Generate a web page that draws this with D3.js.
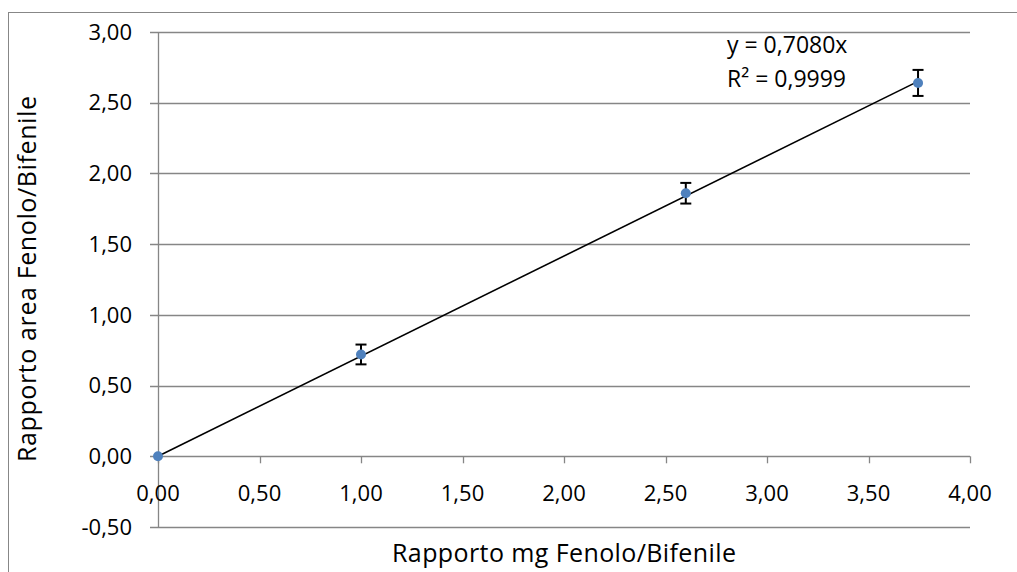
<!DOCTYPE html>
<html>
<head>
<meta charset="utf-8">
<script src="https://cdn.jsdelivr.net/npm/d3@7"></script>
<style>
  body { margin: 0; background: #fff; }
  svg { display: block; font-family: "Open Sans", "Noto Sans", sans-serif; }
</style>
</head>
<body>
<div id="chart"></div>
<script>
// data
const xValues = [0, 1.00, 2.60, 3.744];
const yValues = [0, 0.72, 1.86, 2.64];
const yErrors = [0, 0.07, 0.073, 0.092];
const slope = 0.708;
const xTicks = [0, 0.5, 1, 1.5, 2, 2.5, 3, 3.5, 4];
const yTicks = [-0.5, 0, 0.5, 1, 1.5, 2, 2.5, 3];
const eqLabels = ["y = 0,7080x", "R² = 0,9999"];

const W = 1017, H = 572;
const fmt = v => v.toFixed(2).replace(".", ",");

const svg = d3.select("#chart").append("svg")
    .attr("width", W).attr("height", H);

// outer chart border (right and bottom fall outside the picture)
svg.append("rect")
    .attr("x", 8.5).attr("y", 12.5)
    .attr("width", W + 10).attr("height", H + 10)
    .attr("fill", "none").attr("stroke", "#878787").attr("stroke-width", 1);

const x = d3.scaleLinear().domain([0, 4]).range([158, 970]);
const y = d3.scaleLinear().domain([-0.5, 3]).range([527, 32]);

const grid = "#868686";

// horizontal gridlines
svg.append("g").selectAll("line")
    .data(yTicks)
    .enter().append("line")
    .attr("x1", x(0) - 8).attr("x2", x(4))
    .attr("y1", d => Math.round(y(d)) + 0.5)
    .attr("y2", d => Math.round(y(d)) + 0.5)
    .attr("stroke", grid).attr("stroke-width", 1.3);

// y axis line
svg.append("line")
    .attr("x1", x(0) + 0.5).attr("x2", x(0) + 0.5)
    .attr("y1", y(3)).attr("y2", y(-0.5))
    .attr("stroke", grid).attr("stroke-width", 1.3);

// x tick marks on the zero line
svg.append("g").selectAll("line")
    .data(xTicks)
    .enter().append("line")
    .attr("x1", d => Math.round(x(d)) + 0.5)
    .attr("x2", d => Math.round(x(d)) + 0.5)
    .attr("y1", y(0)).attr("y2", y(0) + 7)
    .attr("stroke", grid).attr("stroke-width", 1.3);

// tick labels
svg.append("g").selectAll("text")
    .data(yTicks)
    .enter().append("text")
    .attr("x", 132).attr("y", d => y(d))
    .attr("dy", "0.35em")
    .attr("text-anchor", "end")
    .attr("font-size", 22).attr("fill", "#000")
    .text(fmt);

svg.append("g").selectAll("text")
    .data(xTicks)
    .enter().append("text")
    .attr("x", d => x(d)).attr("y", 493)
    .attr("dy", "0.35em")
    .attr("text-anchor", "middle")
    .attr("font-size", 22).attr("fill", "#000")
    .text(fmt);

// axis titles
svg.append("text")
    .attr("x", 564).attr("y", 553)
    .attr("dy", "0.35em")
    .attr("text-anchor", "middle")
    .attr("font-size", 25)
    .attr("textLength", 344)
    .text("Rapporto mg Fenolo/Bifenile");

svg.append("text")
    .attr("transform", "translate(27,279) rotate(-90)")
    .attr("dy", "0.35em")
    .attr("text-anchor", "middle")
    .attr("font-size", 25)
    .attr("textLength", 366)
    .text("Rapporto area Fenolo/Bifenile");

// linear trend line through origin
const xMax = d3.max(xValues);
svg.append("line")
    .attr("x1", x(0)).attr("y1", y(0))
    .attr("x2", x(xMax)).attr("y2", y(slope * xMax))
    .attr("stroke", "#000").attr("stroke-width", 1.6);

// error bars
const pts = xValues.map((v, i) => ({x: v, y: yValues[i], e: yErrors[i]}))
    .filter(d => d.e > 0);
const eb = svg.append("g").attr("stroke", "#000").attr("stroke-width", 2);
eb.selectAll(".stem").data(pts).enter().append("line")
    .attr("x1", d => x(d.x)).attr("x2", d => x(d.x))
    .attr("y1", d => y(d.y + d.e)).attr("y2", d => y(d.y - d.e));
eb.selectAll(".capT").data(pts).enter().append("line")
    .attr("x1", d => x(d.x) - 5.5).attr("x2", d => x(d.x) + 5.5)
    .attr("y1", d => y(d.y + d.e)).attr("y2", d => y(d.y + d.e));
eb.selectAll(".capB").data(pts).enter().append("line")
    .attr("x1", d => x(d.x) - 5.5).attr("x2", d => x(d.x) + 5.5)
    .attr("y1", d => y(d.y - d.e)).attr("y2", d => y(d.y - d.e));

// markers
svg.append("g").selectAll("circle")
    .data(xValues)
    .enter().append("circle")
    .attr("cx", d => x(d))
    .attr("cy", (d, i) => y(yValues[i]))
    .attr("r", 5)
    .attr("fill", "#4F81BD");

// trend equation
svg.append("g").selectAll("text")
    .data(eqLabels)
    .enter().append("text")
    .attr("x", 727).attr("y", (d, i) => 45 + i * 34)
    .attr("dy", "0.35em")
    .attr("font-size", 23)
    .text(d => d);
</script>
</body>
</html>
